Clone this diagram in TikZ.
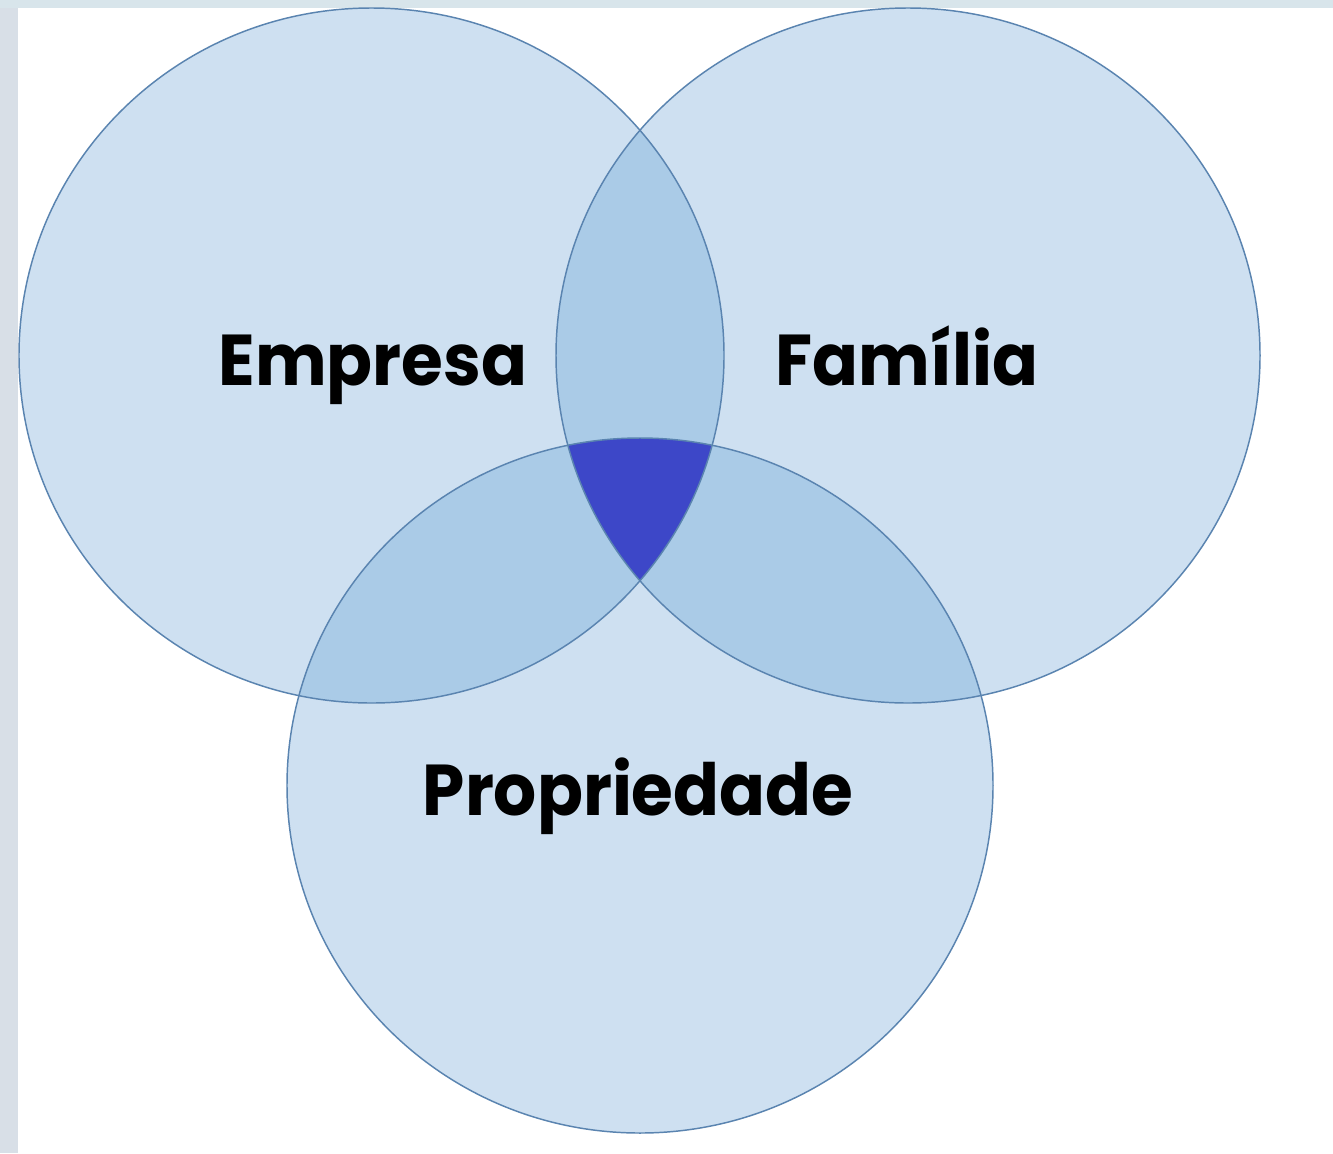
\documentclass[tikz,border=0pt]{standalone}
\usepackage{fontspec}
\newfontfamily\labfont{Poppins}[FakeStretch=0.94]
\definecolor{stripL}{HTML}{D8DFE7}
\definecolor{stripT}{HTML}{D8E5EB}
\definecolor{single}{HTML}{CEE0F1}
\definecolor{pair}{HTML}{AACBE7}
\definecolor{triple}{HTML}{3D47C8}
\definecolor{edge}{HTML}{5A84B0}
\tikzset{
  lab/.style={font=\labfont\bfseries\fontsize{54}{58}\selectfont, text=black, inner sep=0pt, anchor=base},
  ring/.style={draw=edge, line width=1.1pt}
}
\begin{document}
\begin{tikzpicture}[x=0.75pt,y=-0.75pt]
\useasboundingbox (0,0) rectangle (1333,1153);
\fill[stripL] (0,0) rectangle (1333,1153);
\fill[stripT] (0,0) rectangle (1333,8);
\fill[white] (18,8) rectangle (1333,1153);
\def\CE{(371.5,355.5) ellipse [x radius=352.5, y radius=347.5]}
\def\CF{(908,355.5) ellipse [x radius=352, y radius=347.5]}
\def\CP{(640,785.5) ellipse [x radius=353, y radius=347.5]}
\fill[single] \CE;
\fill[single] \CF;
\fill[single] \CP;
\begin{scope}\clip \CE; \fill[pair] \CF; \fill[pair] \CP; \end{scope}
\begin{scope}\clip \CF; \fill[pair] \CP; \end{scope}
\begin{scope}\clip \CE; \clip \CF; \fill[triple] \CP; \end{scope}
\draw[ring] \CE;
\draw[ring] \CF;
\draw[ring] \CP;
\node[lab] (emp) at (373,385) {Empresa};
\node[lab] (fam) at (907,385) {Família};
\node[lab] (prop) at (638,815) {Propriedade};
\end{tikzpicture}
\end{document}
